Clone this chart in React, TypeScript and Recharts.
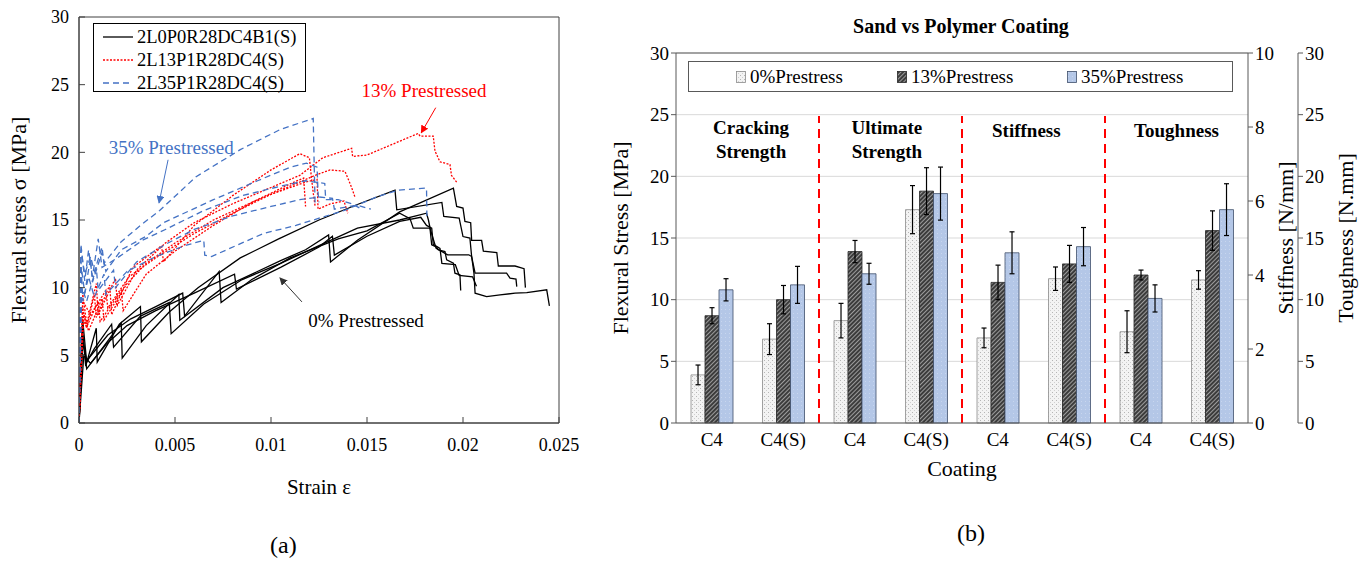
import React from 'react'
import {
  LineChart,
  Line,
  XAxis,
  YAxis,
  ReferenceArea,
  ReferenceLine,
  ReferenceDot,
  ComposedChart,
  Bar,
  ErrorBar,
  CartesianGrid,
  Label,
} from 'recharts'

type Pt = [number, number]

const FONT = '"Liberation Serif", "Times New Roman", serif'

// ---------- (a) strain vs flexural stress ----------
const strainTicks = [0, 0.005, 0.01, 0.015, 0.02, 0.025]
const stressTicks = [0, 5, 10, 15, 20, 25, 30]

// 0% prestressed (black, solid)
const plain1: Pt[] = [[0, 0], [0.00015, 7.2], [0.00035, 4.2], [0.0009, 7.0], [0.00095, 4.5], [0.0021, 7.3], [0.0032, 8.6], [0.00325, 6.0], [0.0047, 8.2], [0.0062, 10.0], [0.0084, 12.2], [0.0104, 13.6], [0.0125, 15.0], [0.0146, 16.2], [0.01646, 17.2], [0.01655, 15.75], [0.0189, 16.3], [0.019, 15.26], [0.0198, 15.14], [0.02, 13.78], [0.02036, 13.66], [0.02045, 12.3], [0.02057, 11.07], [0.02063, 9.59], [0.02123, 9.34], [0.02193, 9.47], [0.02271, 9.59], [0.02332, 9.64], [0.02436, 9.84], [0.0245, 8.65]]
const plain2: Pt[] = [[0, 0], [0.0002, 6.5], [0.0004, 4.0], [0.0012, 5.5], [0.0022, 7.4], [0.00225, 4.8], [0.0035, 7.2], [0.0052, 9.5], [0.00525, 7.6], [0.0075, 10.0], [0.0105, 12.0], [0.0118, 12.8], [0.013, 13.9], [0.0131, 11.9], [0.0145, 13.5], [0.0167, 15.6], [0.0195, 17.36], [0.01967, 16.0], [0.02, 15.88], [0.0201, 14.9], [0.0204, 14.8], [0.02045, 13.5], [0.02097, 13.5], [0.02106, 12.7], [0.02176, 12.6], [0.02184, 11.6], [0.02271, 11.6], [0.02318, 11.4], [0.02325, 10.0]]
const plain3: Pt[] = [[0, 0], [0.0002, 7.5], [0.0004, 4.5], [0.0008, 5.5], [0.0017, 7.3], [0.0018, 5.6], [0.0032, 7.9], [0.0047, 8.9], [0.0048, 6.6], [0.0065, 8.8], [0.0085, 10.6], [0.0105, 11.8], [0.0125, 13.1], [0.0145, 14.4], [0.0167, 15.0], [0.0181, 15.5], [0.0182, 15.0], [0.0183, 14.3], [0.0186, 12.9], [0.0192, 12.43], [0.0203, 12.43], [0.02045, 12.3], [0.02063, 11.07], [0.02227, 11.07], [0.02245, 10.7], [0.02276, 10.63], [0.0228, 10.08]]
const plain4: Pt[] = [[0, 0], [0.0002, 6.0], [0.0004, 4.6], [0.0015, 6.5], [0.0027, 7.7], [0.004, 8.6], [0.0054, 9.6], [0.0055, 7.9], [0.0073, 11.2], [0.0074, 8.9], [0.009, 10.6], [0.011, 12.2], [0.0135, 13.6], [0.015, 14.2], [0.0167, 15.5], [0.01724, 15.1], [0.01741, 14.4], [0.01828, 14.4], [0.01837, 13.17], [0.01863, 12.99], [0.01871, 12.8], [0.01906, 12.67], [0.01915, 12.06], [0.0195, 11.81], [0.01958, 11.07], [0.01984, 10.95], [0.01988, 9.79]]
const plain5: Pt[] = [[0, 0], [0.00025, 5.0], [0.0006, 4.4], [0.0014, 5.8], [0.0025, 7.2], [0.004, 8.3], [0.006, 9.6], [0.0081, 11.0], [0.0082, 9.9], [0.0105, 11.5], [0.0125, 13.0], [0.0132, 13.8], [0.0133, 12.4], [0.015, 13.8], [0.0167, 14.9], [0.0178, 15.2], [0.0181, 14.6], [0.01837, 14.4], [0.01845, 13.2], [0.0188, 12.9], [0.0189, 11.8], [0.0196, 11.7], [0.0198, 10.9], [0.0205, 10.8], [0.0207, 10.1]]

// 13% prestressed (red, dotted)
const pre13a: Pt[] = [[0, 0], [0.0002, 9.5], [0.0004, 7.3], [0.0009, 10.3], [0.001, 8.0], [0.0019, 10.7], [0.002, 8.7], [0.003, 11.3], [0.0045, 13.3], [0.006, 14.8], [0.008, 16.2], [0.01, 17.4], [0.0115, 18.3], [0.0127, 19.6], [0.0142, 20.3], [0.01425, 19.7], [0.015, 19.8], [0.0165, 20.7], [0.01767, 21.4], [0.01776, 21.2], [0.01845, 21.2], [0.01854, 20.1], [0.0188, 19.3], [0.01932, 19.1], [0.0194, 18.3], [0.01967, 17.8]]
const pre13b: Pt[] = [[0, 0], [0.0002, 8.5], [0.0004, 7.0], [0.0008, 9.5], [0.0009, 7.8], [0.0016, 10.2], [0.0017, 8.0], [0.0028, 11.5], [0.0043, 13.1], [0.0044, 11.9], [0.006, 14.6], [0.008, 16.8], [0.01, 18.7], [0.0115, 19.9], [0.012, 19.6], [0.0121, 18.2], [0.0122, 17.0], [0.0123, 16.0]]
const pre13c: Pt[] = [[0, 0], [0.00025, 8.0], [0.0005, 6.8], [0.0012, 9.2], [0.0013, 7.6], [0.0025, 10.3], [0.0035, 11.8], [0.005, 13.3], [0.007, 15.0], [0.009, 16.3], [0.011, 17.5], [0.0123, 18.3], [0.01307, 18.7], [0.01385, 18.6], [0.01403, 18.0], [0.0142, 17.4], [0.01437, 16.7]]
const pre13d: Pt[] = [[0, 0], [0.0002, 7.6], [0.0004, 7.1], [0.001, 9.0], [0.0011, 7.5], [0.0022, 9.8], [0.0023, 8.3], [0.0035, 11.0], [0.005, 12.7], [0.007, 14.6], [0.009, 16.3], [0.0112, 17.8], [0.0117, 18.1], [0.0118, 16.0]]
const pre13e: Pt[] = [[0, 0], [0.0002, 9.0], [0.0006, 8.0], [0.0014, 9.8], [0.0015, 8.5], [0.0026, 10.8], [0.004, 12.2], [0.006, 14.0], [0.008, 15.5], [0.01, 16.9], [0.0118, 17.8], [0.0124, 18.0], [0.01245, 15.8], [0.0131, 16.2], [0.0138, 16.4], [0.014, 15.5]]

// 35% prestressed (blue, dashed)
const pre35a: Pt[] = [[0, 0], [0.0001, 12.8], [0.0003, 11.0], [0.0006, 12.3], [0.0008, 11.2], [0.0012, 13.0], [0.0013, 11.8], [0.0022, 13.4], [0.0032, 14.6], [0.0042, 15.7], [0.0061, 18.2], [0.0084, 20.2], [0.0105, 21.7], [0.0122, 22.5], [0.01225, 19.0], [0.0123, 16.0]]
const pre35b: Pt[] = [[0, 0], [0.00012, 11.5], [0.0003, 9.6], [0.0006, 12.2], [0.0007, 10.4], [0.0012, 12.6], [0.0014, 11.2], [0.0022, 12.8], [0.0035, 13.8], [0.0044, 14.8], [0.007, 16.5], [0.0093, 17.9], [0.011, 18.9], [0.01185, 19.2], [0.0124, 18.9], [0.01245, 17.0], [0.0125, 16.3]]
const pre35c: Pt[] = [[0, 0], [0.0001, 13.2], [0.0003, 10.5], [0.0005, 12.8], [0.0007, 10.8], [0.001, 13.6], [0.0012, 11.5], [0.002, 12.2], [0.0033, 13.5], [0.0045, 14.3], [0.0065, 15.7], [0.0085, 16.8], [0.0105, 17.5], [0.0118, 17.9], [0.0128, 17.7], [0.01285, 16.5], [0.0135, 16.5], [0.0142, 16.2], [0.0146, 15.9]]
const pre35d: Pt[] = [[0, 0], [0.00015, 10.0], [0.0004, 9.0], [0.0009, 11.5], [0.001, 9.8], [0.0018, 11.3], [0.0019, 10.0], [0.003, 11.9], [0.0045, 13.2], [0.006, 14.3], [0.008, 15.3], [0.01, 16.0], [0.0115, 16.5], [0.0125, 16.7], [0.0132, 16.6], [0.0133, 15.8], [0.0145, 16.1], [0.0152, 15.8]]
const pre35e: Pt[] = [[0, 0], [0.0001, 12.0], [0.0002, 9.0], [0.0005, 10.8], [0.0008, 9.3], [0.0013, 11.0], [0.0014, 9.5], [0.0025, 11.2], [0.004, 12.3], [0.0055, 13.1], [0.0065, 13.5], [0.00655, 12.4], [0.0069, 12.3], [0.0096, 14.0], [0.0113, 14.6], [0.0139, 15.75], [0.0155, 16.7], [0.0166, 17.2], [0.0181, 17.36], [0.01812, 15.3]]

const BLACK = '#000000'
const RED = '#ff0000'
const BLUE = '#4472c4'

const specimens = [
  { name: '2L0P0R28DC4B1(S)', color: BLACK, dash: undefined as string | undefined, curves: [plain1, plain2, plain3, plain4, plain5] },
  { name: '2L13P1R28DC4(S)', color: RED, dash: '2 1.5', curves: [pre13a, pre13b, pre13c, pre13d, pre13e] },
  { name: '2L35P1R28DC4(S)', color: BLUE, dash: '6 4', curves: [pre35a, pre35b, pre35c, pre35d, pre35e] },
]

const toRows = (a: Pt[]) => a.map(([x, y]) => ({ x, y }))

// ---------- (b) sand vs polymer coating ----------
const coatings = ['C4', 'C4(S)', 'C4', 'C4(S)', 'C4', 'C4(S)', 'C4', 'C4(S)']
const boundaryTicks = [0, 1, 2, 3, 4, 5, 6, 7, 8]
const leftTicks = [0, 5, 10, 15, 20, 25, 30]
const stiffTicks = [0, 2, 4, 6, 8, 10]
const toughTicks = [0, 5, 10, 15, 20, 25, 30]
// bar heights read on the left (MPa) grid; stiffness/toughness axes share that grid
const p0 = [3.9, 6.8, 8.3, 17.3, 6.9, 11.7, 7.4, 11.6]
const p13 = [8.7, 10.0, 13.9, 18.8, 11.4, 12.9, 12.0, 15.6]
const p35 = [10.8, 11.2, 12.1, 18.6, 13.8, 14.3, 10.1, 17.3]
const p0Err = [0.8, 1.25, 1.4, 1.95, 0.8, 0.95, 1.7, 0.75]
const p13Err = [0.65, 1.15, 0.9, 1.9, 1.4, 1.5, 0.4, 1.6]
const p35Err = [0.9, 1.5, 0.85, 2.15, 1.7, 1.55, 1.1, 2.1]
const legendNames = ['0%Prestress', '13%Prestress', '35%Prestress']

// stiffness (N/mm) and toughness (N.mm) on their own axes: a third / same of the left grid
const STIFF_PER_MPA = 10 / 30
const TOUGH_PER_MPA = 30 / 30

const barRows = coatings.map((c, i) => ({
  i,
  mid: i + 0.5,
  p0: p0[i],
  p13: p13[i],
  p35: p35[i],
  e0: p0Err[i],
  e13: p13Err[i],
  e35: p35Err[i],
  stiff: i === 4 || i === 5 ? p35[i] * STIFF_PER_MPA : null,
  tough: i === 6 || i === 7 ? p35[i] * TOUGH_PER_MPA : null,
}))

const arrow = (color: string, id: string) => (p: any) => (
  <line x1={p.x1} y1={p.y1} x2={p.x2} y2={p.y2} stroke={color} strokeWidth={1} markerEnd={`url(#${id})`} />
)

function StrainChart() {
  const tickStyle = { fontSize: 18, fill: '#000', fontFamily: FONT }
  return (
    <div style={{ position: 'absolute', left: 0, top: 0, fontFamily: FONT }}>
      <LineChart width={600} height={564} margin={{ top: 17, right: 41, bottom: 66, left: 0 }} style={{ fontFamily: FONT }}>
        <defs>
          <marker id="arBlue" markerWidth="8" markerHeight="8" refX="7" refY="4" orient="auto" markerUnits="userSpaceOnUse">
            <path d="M0,0 L8,4 L0,8 z" fill={BLUE} />
          </marker>
          <marker id="arRed" markerWidth="8" markerHeight="8" refX="7" refY="4" orient="auto" markerUnits="userSpaceOnUse">
            <path d="M0,0 L8,4 L0,8 z" fill={RED} />
          </marker>
          <marker id="arBlack" markerWidth="8" markerHeight="8" refX="7" refY="4" orient="auto" markerUnits="userSpaceOnUse">
            <path d="M0,0 L8,4 L0,8 z" fill="#333" />
          </marker>
        </defs>
        <XAxis
          type="number"
          dataKey="x"
          domain={[0, 0.025]}
          ticks={strainTicks}
          allowDataOverflow
          height={75}
          stroke="#404040"
          tickSize={-6}
          tickMargin={21}
          tick={tickStyle}
        >
          <Label value="Strain ε" position="insideBottom" offset={4} style={{ fontSize: 21, fontFamily: FONT, fill: '#000' }} />
        </XAxis>
        <YAxis
          type="number"
          domain={[0, 30]}
          ticks={stressTicks}
          width={79}
          stroke="#404040"
          tickSize={-6}
          tickMargin={16}
          tick={tickStyle}
        >
          <Label
            value="Flexural stress σ [MPa]"
            angle={-90}
            position="insideLeft"
            offset={18}
            style={{ fontSize: 22, fontFamily: FONT, fill: '#000', textAnchor: 'middle' }}
          />
        </YAxis>
        <ReferenceArea x1={0} x2={0.025} y1={0} y2={30} fill="none" stroke="#404040" strokeWidth={1} />
        {specimens.flatMap((s, si) =>
          s.curves.map((c, ci) => (
            <Line
              key={`${si}-${ci}`}
              data={toRows(c)}
              dataKey="y"
              type="linear"
              stroke={s.color}
              strokeWidth={1.3}
              strokeDasharray={s.dash}
              dot={false}
              activeDot={false}
              isAnimationActive={false}
            />
          ))
        )}
        <ReferenceDot x={0.0048} y={20.4} r={0} fill="none" stroke="none"
          label={{ value: '35% Prestressed', position: 'center', fill: BLUE, fontSize: 19, fontFamily: FONT }} />
        <ReferenceDot x={0.01797} y={24.6} r={0} fill="none" stroke="none"
          label={{ value: '13% Prestressed', position: 'center', fill: RED, fontSize: 19, fontFamily: FONT }} />
        <ReferenceDot x={0.01495} y={7.6} r={0} fill="none" stroke="none"
          label={{ value: '0% Prestressed', position: 'center', fill: '#000', fontSize: 19, fontFamily: FONT }} />
        <ReferenceLine segment={[{ x: 0.00464, y: 19.45 }, { x: 0.00417, y: 16.27 }]} shape={arrow(BLUE, 'arBlue')} />
        <ReferenceLine segment={[{ x: 0.01858, y: 23.3 }, { x: 0.01783, y: 21.45 }]} shape={arrow(RED, 'arRed')} />
        <ReferenceLine segment={[{ x: 0.01161, y: 8.95 }, { x: 0.01047, y: 10.72 }]} shape={arrow('#333', 'arBlack')} />
      </LineChart>
      <div
        style={{
          position: 'absolute', left: 93, top: 23, width: 211, height: 67,
          border: '1.5px solid #000', background: '#fff', fontFamily: FONT, fontSize: 18.5,
        }}
      >
        {specimens.map((s, i) => (
          <div key={s.name} style={{ position: 'absolute', left: 8, top: 2 + i * 23, height: 22, display: 'flex', alignItems: 'center' }}>
            <svg width={32} height={10} style={{ marginRight: 3 }}>
              <line x1={1} y1={5} x2={31} y2={5} stroke={s.color} strokeWidth={1.3} strokeDasharray={s.dash} />
            </svg>
            <span style={{ color: '#000', whiteSpace: 'nowrap' }}>{s.name}</span>
          </div>
        ))}
      </div>
      <div style={{ position: 'absolute', left: 270, top: 532, fontFamily: FONT, fontSize: 24, color: '#000' }}>(a)</div>
    </div>
  )
}

const groupText = (value: string) => ({ value, position: 'center' as const, fill: '#000', fontSize: 19, fontWeight: 700, fontFamily: FONT })

function CoatingChart() {
  const tickStyle = { fontSize: 19, fill: '#000', fontFamily: FONT }
  const axisTitle = { fontSize: 22, fontFamily: FONT, fill: '#000', textAnchor: 'middle' as const }
  const fills = ['url(#pat0)', 'url(#pat13)', 'url(#pat35)']
  const edges = ['#8a8a8a', '#262626', '#3f4f6b']
  return (
    <div style={{ position: 'absolute', left: 600, top: 0, fontFamily: FONT }}>
      <ComposedChart
        width={765}
        height={564}
        data={barRows}
        margin={{ top: 53, right: 0, bottom: 80, left: 0 }}
        barCategoryGap="21%"
        barGap={0}
        style={{ fontFamily: FONT }}
      >
        <defs>
          <pattern id="pat0" width="4" height="4" patternUnits="userSpaceOnUse">
            <rect width="4" height="4" fill="#f3f3f3" />
            <rect x="0" y="0" width="1" height="1" fill="#b5b5b5" />
            <rect x="2" y="2" width="1" height="1" fill="#cfcfcf" />
          </pattern>
          <pattern id="pat13" width="3" height="3" patternUnits="userSpaceOnUse" patternTransform="rotate(45)">
            <rect width="3" height="3" fill="#3c3c3c" />
            <rect width="1" height="3" fill="#9c9c9c" />
          </pattern>
          <pattern id="pat35" width="4" height="4" patternUnits="userSpaceOnUse">
            <rect width="4" height="4" fill="#b4c7e7" />
            <rect x="1" y="1" width="1" height="1" fill="#c8d6ee" />
          </pattern>
        </defs>
        <CartesianGrid xAxisId="bnd" vertical={false} stroke="#d9d9d9" />
        <XAxis
          xAxisId="bnd"
          dataKey="mid"
          type="number"
          domain={[0, 8]}
          ticks={boundaryTicks}
          allowDataOverflow
          height={1}
          stroke="#595959"
          tickSize={6}
          tick={false}
        />
        <XAxis
          xAxisId="cat"
          dataKey="i"
          type="category"
          height={60}
          axisLine={false}
          tickLine={false}
          tickMargin={3}
          tick={tickStyle}
          tickFormatter={(v: number) => coatings[v]}
        >
          <Label value="Coating" position="insideBottom" offset={8} style={axisTitle} />
        </XAxis>
        <YAxis domain={[0, 30]} ticks={leftTicks} width={76} stroke="#595959" tickSize={5} tick={tickStyle}>
          <Label value="Flexural Stress [MPa]" angle={-90} position="insideLeft" offset={20} style={axisTitle} />
        </YAxis>
        <YAxis yAxisId="stiff" orientation="right" domain={[0, 10]} ticks={stiffTicks} allowDataOverflow width={50} stroke="#595959" tickSize={5} tick={tickStyle}>
          <Label value="Stiffness [N/mm]" angle={-90} position="insideRight" offset={13} style={axisTitle} />
        </YAxis>
        <YAxis yAxisId="tough" orientation="right" domain={[0, 30]} ticks={toughTicks} allowDataOverflow width={67} stroke="#595959" tickSize={5} tick={tickStyle}>
          <Label value="Toughness [N.mm]" angle={-90} position="insideRight" offset={20} style={axisTitle} />
        </YAxis>
        <ReferenceLine xAxisId="bnd" y={30} stroke="#595959" strokeWidth={1.2} />
        {['p0', 'p13', 'p35'].map((k, j) => (
          <Bar
            key={k}
            xAxisId="cat"
            dataKey={k}
            fill={fills[j]}
            stroke={edges[j]}
            strokeWidth={0.8}
            isAnimationActive={false}
          >
            <ErrorBar dataKey={`e${k.slice(1)}`} width={2.5} stroke="#000" strokeWidth={1.2} />
          </Bar>
        ))}
        {/* carriers for the secondary axes, not drawn */}
        <Line xAxisId="cat" yAxisId="stiff" dataKey="stiff" stroke="none" dot={false} activeDot={false} legendType="none" isAnimationActive={false} />
        <Line xAxisId="cat" yAxisId="tough" dataKey="tough" stroke="none" dot={false} activeDot={false} legendType="none" isAnimationActive={false} />
        {[2, 4, 6].map((b) => (
          <ReferenceLine
            key={b}
            xAxisId="bnd"
            segment={[{ x: b, y: 0 }, { x: b, y: 24.9 }]}
            stroke="#ff0000"
            strokeWidth={2}
            strokeDasharray="9 6"
          />
        ))}
        <ReferenceDot xAxisId="bnd" x={1.05} y={24.0} r={0} fill="none" stroke="none" label={groupText('Cracking')} />
        <ReferenceDot xAxisId="bnd" x={1.05} y={22.0} r={0} fill="none" stroke="none" label={groupText('Strength')} />
        <ReferenceDot xAxisId="bnd" x={2.95} y={24.0} r={0} fill="none" stroke="none" label={groupText('Ultimate')} />
        <ReferenceDot xAxisId="bnd" x={2.95} y={22.0} r={0} fill="none" stroke="none" label={groupText('Strength')} />
        <ReferenceDot xAxisId="bnd" x={4.9} y={23.7} r={0} fill="none" stroke="none" label={groupText('Stiffness')} />
        <ReferenceDot xAxisId="bnd" x={7.0} y={23.7} r={0} fill="none" stroke="none" label={groupText('Toughness')} />
      </ComposedChart>
      <div
        style={{
          position: 'absolute', left: 88, top: 61, width: 543, height: 29,
          border: '1.5px solid #595959', background: '#fff', fontFamily: FONT, fontSize: 19,
        }}
      >
        {legendNames.map((n, j) => (
          <div key={n} style={{ position: 'absolute', left: [47, 208, 378][j], top: 0, height: 29, display: 'flex', alignItems: 'center' }}>
            <svg width={10} height={12} style={{ marginRight: 4 }}>
              <rect x={0.5} y={0.5} width={9} height={11} fill={fills[j]} stroke={edges[j]} strokeWidth={0.8} />
            </svg>
            <span style={{ color: '#000', whiteSpace: 'nowrap' }}>{n}</span>
          </div>
        ))}
      </div>
      <div
        style={{
          position: 'absolute', left: 0, width: 722, top: 15, textAlign: 'center',
          fontFamily: FONT, fontSize: 20, fontWeight: 700, color: '#000',
        }}
      >
        Sand vs Polymer Coating
      </div>
      <div style={{ position: 'absolute', left: 357, top: 520, fontFamily: FONT, fontSize: 24, color: '#000' }}>(b)</div>
    </div>
  )
}

export default function App() {
  return (
    <div style={{ position: 'absolute', left: 0, top: 0, width: 1365, height: 564, background: '#fff', overflow: 'hidden', fontFamily: FONT }}>
      <style>{`svg text, svg tspan { font-family: "Liberation Serif", "Times New Roman", serif !important; }`}</style>
      <StrainChart />
      <CoatingChart />
    </div>
  )
}
